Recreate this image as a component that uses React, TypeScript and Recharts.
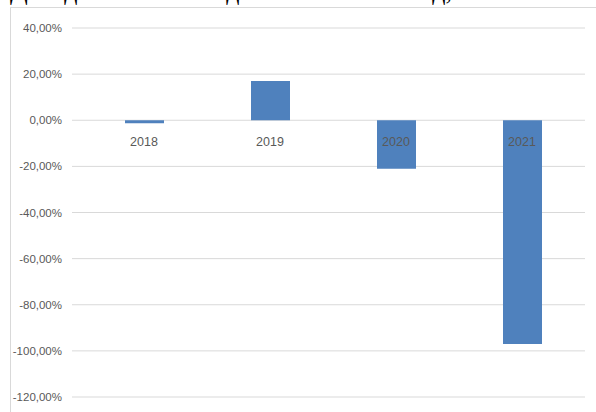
import React from "react";
import { BarChart, Bar, XAxis, YAxis, CartesianGrid } from "recharts";

const years = ["2018", "2019", "2020", "2021"];
const growth = [-1.3, 17, -21, -97];
const yTicks = [40, 20, 0, -20, -40, -60, -80, -100, -120];

const data = years.map((year, i) => ({ year, value: growth[i] }));

const W = 596;
const H = 412;
const TOP = 28;
const BOTTOM = 15;
const X_AXIS_H = 1;
const Y_MAX = 40;
const Y_MIN = -120;
const PLOT_H = H - TOP - BOTTOM;
// category labels sit just under the zero line, like in the Excel original
const zeroY = TOP + (PLOT_H * (Y_MAX - 0)) / (Y_MAX - Y_MIN);

const fmt = (v: number) => `${v.toFixed(2).replace(".", ",")}%`;

const axisFont = "'Liberation Sans Narrow', 'Liberation Sans', Arial, sans-serif";

function YearTick(props: any) {
  const { x, payload } = props;
  return (
    <text
      x={x}
      y={zeroY + 26}
      textAnchor="middle"
      fontSize={12.5}
      fontFamily={axisFont}
      fill="#595959"
    >
      {payload.value}
    </text>
  );
}

export default function App() {
  return (
    <div
      style={{
        position: "fixed",
        left: 0,
        top: 0,
        width: W,
        height: H,
        overflow: "hidden",
        background: "#fff",
      }}
    >
      {/* title, mostly cut off in the source screenshot */}
      <div
        style={{
          position: "absolute",
          left: 10,
          top: -23,
          fontFamily: "'Liberation Serif', 'DejaVu Serif', serif",
          fontSize: 26,
          lineHeight: "30px",
          whiteSpace: "nowrap",
          color: "#000",
        }}
      >
        Доход от основной деятельности за год, %
      </div>
      {/* chart frame */}
      <div
        style={{
          position: "absolute",
          left: 10,
          top: 7,
          width: W,
          height: H,
          border: "1px solid #d9d9d9",
        }}
      />
      <div style={{ position: "absolute", left: 0, top: 0 }}>
        <BarChart
          width={W}
          height={H}
          data={data}
          margin={{ top: TOP, right: 11, bottom: BOTTOM - X_AXIS_H, left: 10 }}
        >
          <CartesianGrid vertical={false} stroke="#d9d9d9" strokeWidth={1} />
          <YAxis
            width={62}
            domain={[Y_MIN, Y_MAX]}
            ticks={yTicks}
            tickFormatter={fmt}
            axisLine={false}
            tickLine={false}
            tickMargin={4}
            interval={0}
            tick={{ fontSize: 11.5, fill: "#595959", fontFamily: axisFont }}
          />
          <Bar dataKey="value" fill="#4F81BD" barSize={39} isAnimationActive={false} />
          <XAxis
            dataKey="year"
            height={X_AXIS_H}
            axisLine={false}
            tickLine={false}
            padding={{ left: 9, right: 0 }}
            tick={<YearTick />}
            interval={0}
          />
        </BarChart>
      </div>
    </div>
  );
}
